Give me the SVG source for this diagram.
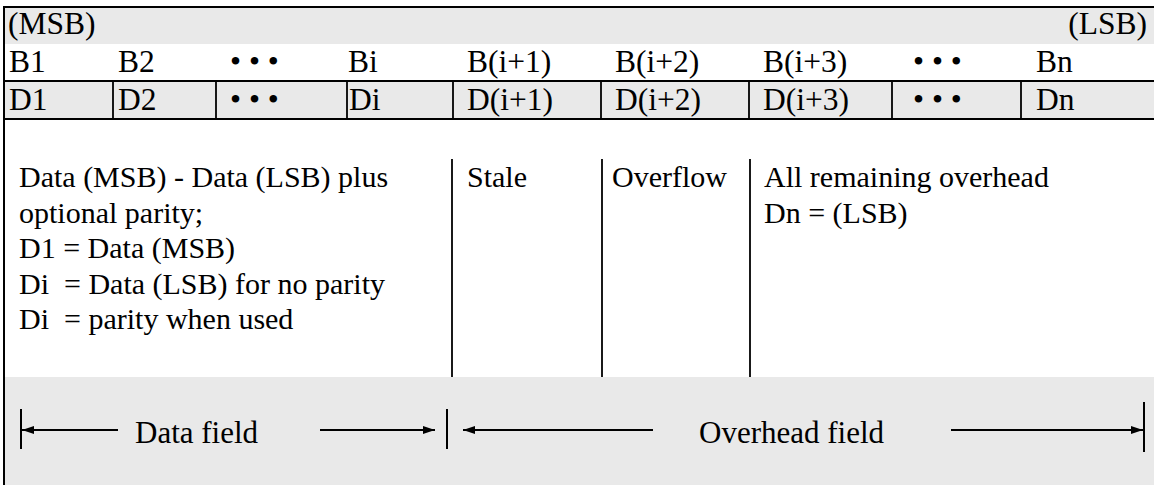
<svg xmlns="http://www.w3.org/2000/svg" width="1154" height="485" viewBox="0 0 1154 485">
<style>
  .t { font-family: "Liberation Serif", "Times New Roman", serif; fill: #000; white-space: pre; }
  .row { font-size: 31.5px; }
  .body { font-size: 30px; }
  .lbl { font-size: 31px; }
  .shade { fill: #e9e9e9; stroke: none; }
  .ln { stroke: #000; stroke-width: 2; fill: none; }
  .thin { stroke: #000; stroke-width: 1.8; fill: none; }
</style>
<defs>
  <marker id="ah" viewBox="0 0 12 8" refX="12" refY="4" markerWidth="12" markerHeight="8" markerUnits="userSpaceOnUse" orient="auto">
    <path d="M0,0 L12,4 L0,8 z" fill="#000"/>
  </marker>
</defs>
<rect x="0" y="0" width="1154" height="485" fill="#fff"/>

<!-- background shading -->
<rect class="shade" x="4" y="8" width="1150" height="36"/>
<rect class="shade" x="4" y="81" width="1150" height="38"/>
<rect class="shade" x="4" y="377" width="1150" height="108"/>

<!-- frame -->
<g id="frame">
  <line class="ln" x1="3" y1="7" x2="1154" y2="7"/>
  <line class="ln" x1="4" y1="6" x2="4" y2="485"/>
  <line class="ln" x1="3" y1="81" x2="1154" y2="81"/>
  <line class="ln" x1="3" y1="119" x2="1154" y2="119"/>
</g>

<g id="msb-row">
  <text class="t row" x="8" y="34">(MSB)</text>
  <text class="t row" x="1147" y="34" text-anchor="end">(LSB)</text>
</g>

<g id="b-row">
  <text class="t row" x="9" y="72">B1</text>
  <text class="t row" x="118" y="72">B2</text>
  <text class="t row" x="230" y="72">• • •</text>
  <text class="t row" x="348" y="72">Bi</text>
  <text class="t row" x="467" y="72">B(i+1)</text>
  <text class="t row" x="615" y="72">B(i+2)</text>
  <text class="t row" x="763" y="72">B(i+3)</text>
  <text class="t row" x="913" y="72">• • •</text>
  <text class="t row" x="1036" y="72">Bn</text>
</g>

<g id="d-row">
  <line class="thin" x1="113" y1="81" x2="113" y2="119"/>
  <line class="thin" x1="216" y1="81" x2="216" y2="119"/>
  <line class="thin" x1="347" y1="81" x2="347" y2="119"/>
  <line class="thin" x1="453" y1="81" x2="453" y2="119"/>
  <line class="thin" x1="601" y1="81" x2="601" y2="119"/>
  <line class="thin" x1="749" y1="81" x2="749" y2="119"/>
  <line class="thin" x1="892" y1="81" x2="892" y2="119"/>
  <line class="thin" x1="1021" y1="81" x2="1021" y2="119"/>
  <text class="t row" x="9" y="110">D1</text>
  <text class="t row" x="118" y="110">D2</text>
  <text class="t row" x="230" y="110">• • •</text>
  <text class="t row" x="349" y="110">Di</text>
  <text class="t row" x="467" y="110">D(i+1)</text>
  <text class="t row" x="615" y="110">D(i+2)</text>
  <text class="t row" x="763" y="110">D(i+3)</text>
  <text class="t row" x="913" y="110">• • •</text>
  <text class="t row" x="1036" y="110">Dn</text>
</g>

<g id="data-desc">
  <text class="t body" x="19" y="187">Data (MSB) - Data (LSB) plus</text>
  <text class="t body" x="19" y="222.5">optional parity;</text>
  <text class="t body" x="19" y="258">D1 = Data (MSB)</text>
  <text class="t body" x="19" y="293.5" xml:space="preserve">Di  = Data (LSB) for no parity</text>
  <text class="t body" x="19" y="329" xml:space="preserve">Di  = parity when used</text>
</g>

<g id="stale">
  <line class="thin" x1="452" y1="159" x2="452" y2="377"/>
  <text class="t body" x="467" y="187">Stale</text>
</g>

<g id="overflow">
  <line class="thin" x1="602" y1="159" x2="602" y2="377"/>
  <text class="t body" x="612" y="187">Overflow</text>
</g>

<g id="overhead">
  <line class="thin" x1="750" y1="159" x2="750" y2="377"/>
  <text class="t body" x="764" y="187">All remaining overhead</text>
  <text class="t body" x="764" y="222.5">Dn = (LSB)</text>
</g>

<g id="connectors">
  <line class="ln" x1="21" y1="409" x2="21" y2="449"/>
  <line class="ln" x1="118" y1="430" x2="22" y2="430" marker-end="url(#ah)"/>
  <line class="ln" x1="320" y1="430" x2="435" y2="430" marker-end="url(#ah)"/>
  <line class="ln" x1="447" y1="409" x2="447" y2="449"/>
  <line class="ln" x1="653" y1="430" x2="463" y2="430" marker-end="url(#ah)"/>
  <line class="ln" x1="951" y1="430" x2="1143" y2="430" marker-end="url(#ah)"/>
  <line class="ln" x1="1144" y1="402" x2="1144" y2="452"/>
</g>

<g id="field-labels">
  <text class="t lbl" x="135" y="443">Data field</text>
  <text class="t lbl" x="699" y="443">Overhead field</text>
</g>
</svg>
